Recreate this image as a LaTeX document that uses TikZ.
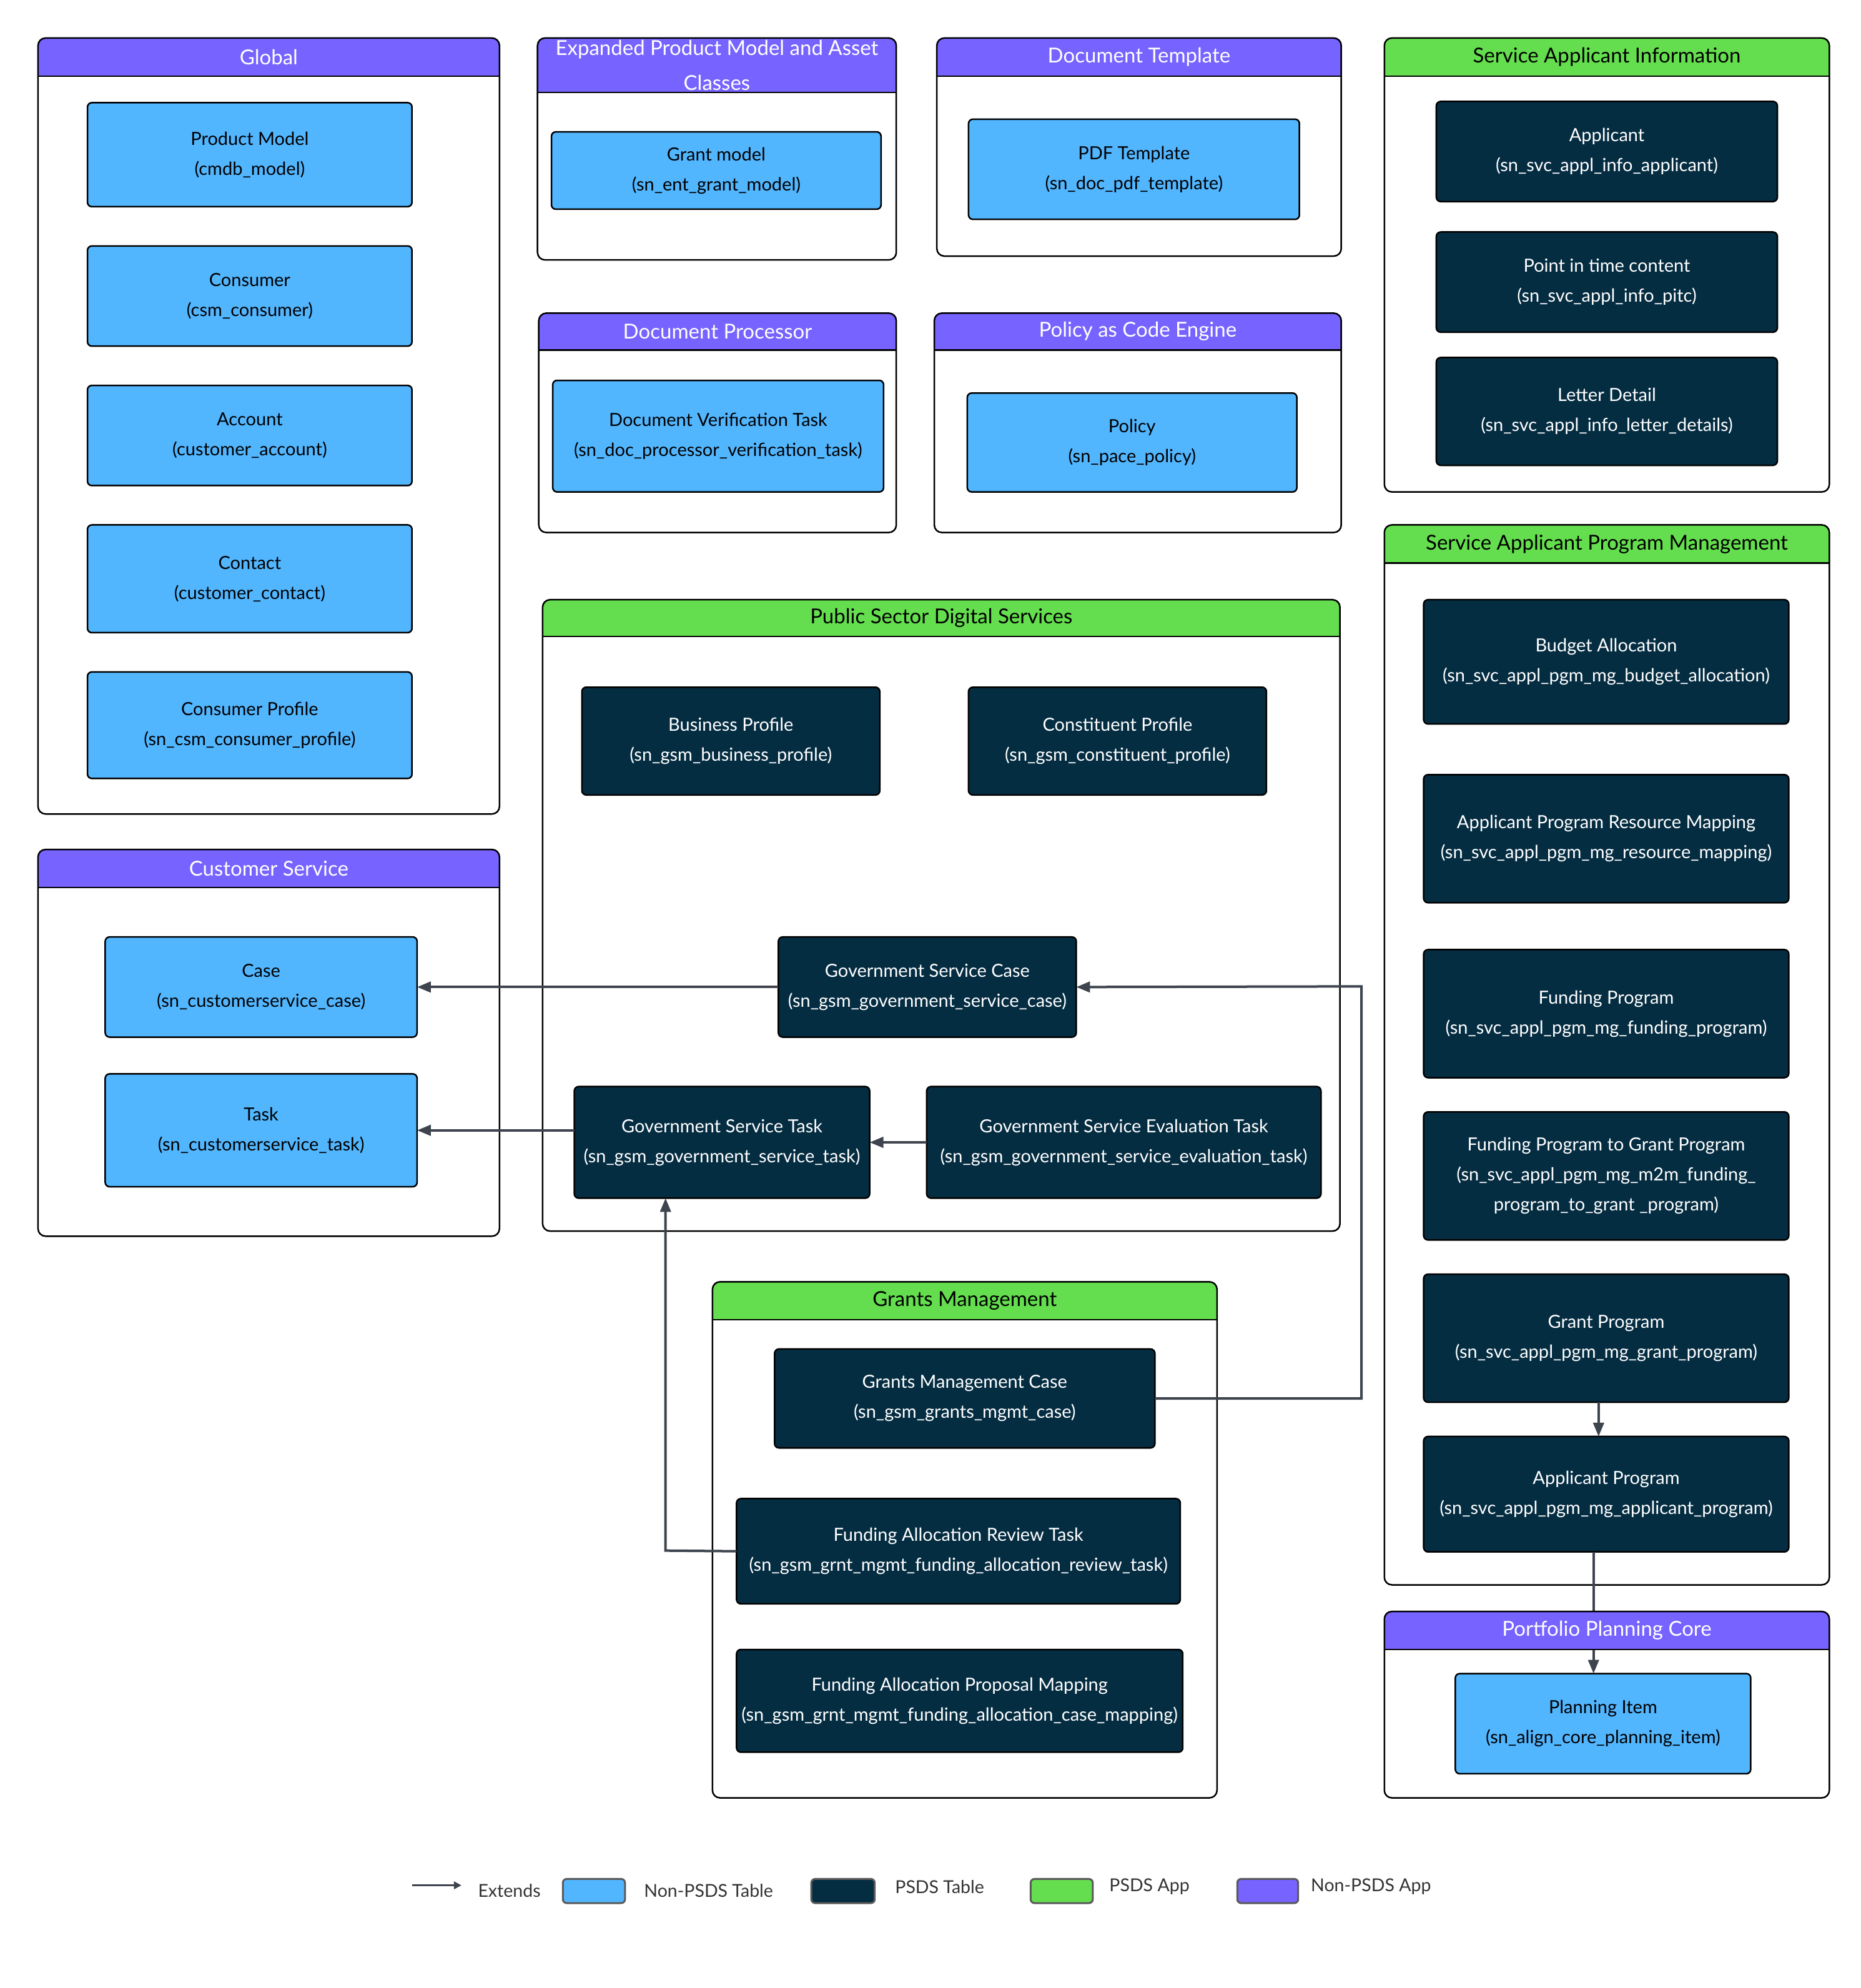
\documentclass[tikz,border=0pt]{standalone}
\usepackage{fontspec}
\setmainfont{Lato}
\usetikzlibrary{arrows.meta,fit,calc}
\definecolor{hdrpurple}{HTML}{7763FF}
\definecolor{hdrgreen}{HTML}{64DE4E}
\definecolor{lblue}{HTML}{52B6FF}
\definecolor{navy}{HTML}{052D42}
\definecolor{conncol}{HTML}{3E444E}
\definecolor{legtext}{HTML}{333333}
\definecolor{swborder}{HTML}{5A5A5A}
\tikzset{
  grpbody/.style={fill=white, inner sep=0pt, outer sep=0pt},
  grpborder/.style={draw=black, line width=2.5pt, rounded corners=12pt},
  grpline/.style={draw=black, line width=2.5pt},
  hdrtext/.style={font=\fontsize{33}{56}\selectfont, align=center, inner sep=0pt},
  tblbox/.style={draw=black, line width=2.5pt, rounded corners=7pt, inner sep=0pt, outer sep=0pt},
  tbltext/.style={align=center, inner sep=0pt, font=\fontsize{29}{48}\selectfont},
  ltbox/.style={fill=lblue},
  dkbox/.style={fill=navy},
  lttxt/.style={text=black},
  dktxt/.style={text=white},
  conn/.style={draw=conncol, line width=4pt, -{Triangle[length=22pt,width=17pt]}},
  legtxt/.style={font=\fontsize{28.5}{32}\selectfont, text=legtext, anchor=west, inner sep=0pt},
  swatch/.style={draw=swborder, line width=3pt, rounded corners=6pt, inner sep=0pt},
}
% body: name, x1,y1,x2,y2
\newcommand\grpbody[5]{\node[grpbody, fit={(#2,#3) (#4,#5)}] (#1) {};}
% head: name, x1,y1,x2,y2, yh, color, textcolor, title
\newcommand\grphead[9]{%
  \begin{scope}
    \clip (#2,#3) rectangle (#4,#6);
    \fill[#7, rounded corners=12pt] (#2,#3) rectangle (#4,#5);
  \end{scope}
  \draw[grpline] (#2,#6) -- (#4,#6);
  \draw[grpborder] (#2,#3) rectangle (#4,#5);
  \node[hdrtext, text=#8] (#1-t) at ($(#2,#3)!0.5!(#4,#6)$) {#9};
}
\newcommand\grp[9]{\grpbody{#1}{#2}{#3}{#4}{#5}\grphead{#1}{#2}{#3}{#4}{#5}{#6}{#7}{#8}{#9}}
\newcommand\tbl[7]{%
  \node[tblbox,#6box,fit={(#2,#3) (#4,#5)}] (#1) {};
  \node[tbltext,#6txt] (#1-t) at (#1.center) {#7};}

\begin{document}
\begin{tikzpicture}[x=2.03pt, y=-2.03pt]
\useasboundingbox (0,0) rectangle (1468,1568);
\fill[white] (0,0) rectangle (1468,1568);

% ---------- Containers ----------
\grp{global}{30}{30}{394}{642}{60}{hdrpurple}{white}{Global}
\grp{epm}{424}{30}{707}{205}{73}{hdrpurple}{white}{Expanded Product Model and Asset\\Classes}
\grp{doctpl}{739}{30}{1058}{202}{60}{hdrpurple}{white}{Document Template}
\grp{sai}{1092}{30}{1443}{388}{60}{hdrgreen}{black}{Service Applicant Information}
\grp{docproc}{425}{247}{707}{420}{276}{hdrpurple}{white}{Document Processor}
\grp{pace}{737}{247}{1058}{420}{276}{hdrpurple}{white}{Policy as Code Engine}
\grp{sapm}{1092}{414}{1443}{1250}{444}{hdrgreen}{black}{Service Applicant Program Management}
\grp{psds}{428}{473}{1057}{971}{502}{hdrgreen}{black}{Public Sector Digital Services}
\grp{cs}{30}{670}{394}{975}{700}{hdrpurple}{white}{Customer Service}
\grp{gm}{562}{1011}{960}{1418}{1041}{hdrgreen}{black}{Grants Management}
\grpbody{ppc}{1092}{1271}{1443}{1418}

% ---------- Tables ----------
\tbl{pm}{69}{81}{325}{163}{lt}{Product Model\\(cmdb\_model)}
\tbl{cons}{69}{194}{325}{273}{lt}{Consumer\\(csm\_consumer)}
\tbl{acct}{69}{304}{325}{383}{lt}{Account\\(customer\_account)}
\tbl{cont}{69}{414}{325}{499}{lt}{Contact\\(customer\_contact)}
\tbl{cprof}{69}{530}{325}{614}{lt}{Consumer Profile\\(sn\_csm\_consumer\_profile)}
\tbl{gmod}{435}{104}{695}{165}{lt}{Grant model\\(sn\_ent\_grant\_model)}
\tbl{pdf}{764}{94}{1025}{173}{lt}{PDF Template\\(sn\_doc\_pdf\_template)}
\tbl{appl}{1133}{80}{1402}{159}{dk}{Applicant\\(sn\_svc\_appl\_info\_applicant)}
\tbl{pitc}{1133}{183}{1402}{262}{dk}{Point in time content\\(sn\_svc\_appl\_info\_pitc)}
\tbl{letter}{1133}{282}{1402}{367}{dk}{Letter Detail\\(sn\_svc\_appl\_info\_letter\_details)}
\tbl{dvt}{436}{300}{697}{388}{lt}{Document Verification Task\\(sn\_doc\_processor\_verification\_task)}
\tbl{pol}{763}{310}{1023}{388}{lt}{Policy\\(sn\_pace\_policy)}
\tbl{ba}{1123}{473}{1411}{571}{dk}{Budget Allocation\\(sn\_svc\_appl\_pgm\_mg\_budget\_allocation)}
\tbl{aprm}{1123}{611}{1411}{712}{dk}{Applicant Program Resource Mapping\\(sn\_svc\_appl\_pgm\_mg\_resource\_mapping)}
\tbl{fp}{1123}{749}{1411}{850}{dk}{Funding Program\\(sn\_svc\_appl\_pgm\_mg\_funding\_program)}
\tbl{fpgp}{1123}{877}{1411}{978}{dk}{Funding Program to Grant Program\\(sn\_svc\_appl\_pgm\_mg\_m2m\_funding\_\\program\_to\_grant \_program)}
\tbl{gp}{1123}{1005}{1411}{1106}{dk}{Grant Program\\(sn\_svc\_appl\_pgm\_mg\_grant\_program)}
\tbl{ap}{1123}{1133}{1411}{1224}{dk}{Applicant Program\\(sn\_svc\_appl\_pgm\_mg\_applicant\_program)}
\tbl{pi}{1148}{1320}{1381}{1399}{lt}{Planning Item\\(sn\_align\_core\_planning\_item)}
\tbl{bp}{459}{542}{694}{627}{dk}{Business Profile\\(sn\_gsm\_business\_profile)}
\tbl{cp}{764}{542}{999}{627}{dk}{Constituent Profile\\(sn\_gsm\_constituent\_profile)}
\tbl{gsc}{614}{739}{849}{818}{dk}{Government Service Case\\(sn\_gsm\_government\_service\_case)}
\tbl{gst}{453}{857}{686}{945}{dk}{Government Service Task\\(sn\_gsm\_government\_service\_task)}
\tbl{gset}{731}{857}{1042}{945}{dk}{Government Service Evaluation Task\\(sn\_gsm\_government\_service\_evaluation\_task)}
\tbl{case}{83}{739}{329}{818}{lt}{Case\\(sn\_customerservice\_case)}
\tbl{task}{83}{847}{329}{936}{lt}{Task\\(sn\_customerservice\_task)}
\tbl{gmc}{611}{1064}{911}{1142}{dk}{Grants Management Case\\(sn\_gsm\_grants\_mgmt\_case)}
\tbl{fart}{581}{1182}{931}{1265}{dk}{Funding Allocation Review Task\\(sn\_gsm\_grnt\_mgmt\_funding\_allocation\_review\_task)}
\tbl{fapm}{581}{1301}{933}{1382}{dk}{Funding Allocation Proposal Mapping\\(sn\_gsm\_grnt\_mgmt\_funding\_allocation\_case\_mapping)}

% ---------- Connectors ----------
\coordinate (r1) at (1074,778);
\coordinate (l1) at (525,1223);
\coordinate (xa) at (1261,0);
\coordinate (xb) at (1257,0);
\draw[conn] (gsc.west) -- (case.east);
\draw[conn] (gst.west |- task.east) -- (task.east);
\draw[conn] (gset.west) -- (gset.west -| gst.east);
\draw[conn] (gmc.east) -| (r1) -- (gsc.east);
\draw[conn] (fart.west) -- (l1) -- (l1 |- gst.south);
\draw[conn] (gp.south -| xa) -- (ap.north -| xa);
\draw[conn] (ap.south -| xb) -- (pi.north -| xb);

\grphead{ppc}{1092}{1271}{1443}{1418}{1301}{hdrpurple}{white}{Portfolio Planning Core}

% ---------- Legend ----------
\coordinate (lga) at (325,1487);
\coordinate (lgb) at (364,1487);
\draw[draw=conncol, line width=3pt, -{Triangle[length=12pt,width=12pt]}] (lga) -- (lgb);
\node[legtxt] (lt1) at (377,1491) {Extends};
\node[swatch, fill=lblue, fit={(444,1482) (493,1501)}] (sw1) {};
\node[legtxt] (lt2) at (508,1491) {Non-PSDS Table};
\node[swatch, fill=navy, fit={(640,1482) (690,1501)}] (sw2) {};
\node[legtxt] (lt3) at (706,1488) {PSDS Table};
\node[swatch, fill=hdrgreen, fit={(813,1482) (862,1501)}] (sw3) {};
\node[legtxt] (lt4) at (875,1488) {PSDS App};
\node[swatch, fill=hdrpurple, fit={(976,1482) (1024,1501)}] (sw4) {};
\node[legtxt] (lt5) at (1034,1488) {Non-PSDS App};
\end{tikzpicture}
\end{document}
